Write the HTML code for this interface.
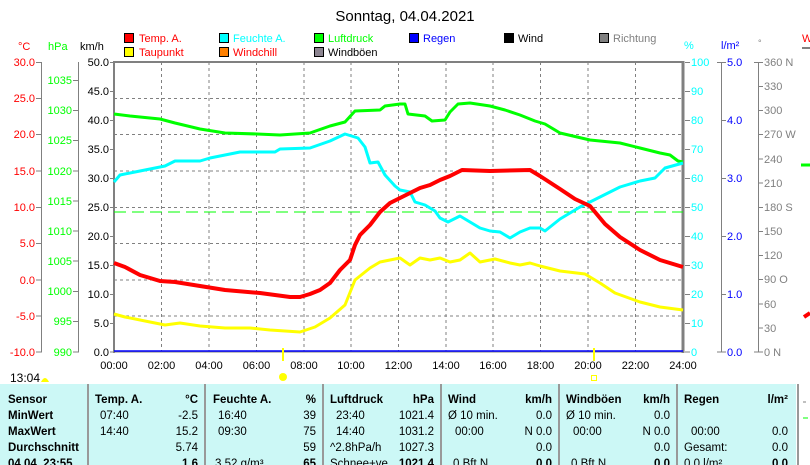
<!DOCTYPE html>
<html><head><meta charset="utf-8"><style>
html,body{margin:0;padding:0;background:#fff;}
svg{display:block;font-family:"Liberation Sans",sans-serif;}
</style></head><body>
<svg width="810" height="465" viewBox="0 0 810 465" xmlns="http://www.w3.org/2000/svg">
<rect width="810" height="465" fill="#fff"/>
<text x="405" y="21" font-size="15" text-anchor="middle" fill="#000">Sonntag, 04.04.2021</text>
<!-- legend -->
<g font-size="11">
<rect x="124.5" y="33.5" width="9" height="9" fill="#f00" stroke="#000"/><text x="139" y="42" fill="#f00">Temp. A.</text>
<rect x="124.5" y="47.5" width="9" height="9" fill="#ff0" stroke="#000"/><text x="139" y="56" fill="#f00">Taupunkt</text>
<rect x="219.5" y="33.5" width="9" height="9" fill="#0ff" stroke="#000"/><text x="233" y="42" fill="#0ff">Feuchte A.</text>
<rect x="219.5" y="47.5" width="9" height="9" fill="#ff8000" stroke="#000"/><text x="233" y="56" fill="#f00">Windchill</text>
<rect x="314.5" y="33.5" width="9" height="9" fill="#0f0" stroke="#000"/><text x="328" y="42" fill="#0f0">Luftdruck</text>
<rect x="314.5" y="47.5" width="9" height="9" fill="#8c8490" stroke="#000"/><text x="328" y="56" fill="#000">Windböen</text>
<rect x="409.5" y="33.5" width="9" height="9" fill="#00f" stroke="#000"/><text x="423" y="42" fill="#00f">Regen</text>
<rect x="504.5" y="33.5" width="9" height="9" fill="#000" stroke="#000"/><text x="518" y="42" fill="#000">Wind</text>
<rect x="599.5" y="33.5" width="9" height="9" fill="#808080" stroke="#000"/><text x="613" y="42" fill="#808080">Richtung</text>
</g>
<!-- units -->
<g font-size="11">
<text x="18" y="50" fill="#f00">°C</text>
<text x="48" y="50" fill="#0f0">hPa</text>
<text x="80" y="50" fill="#000">km/h</text>
<text x="684" y="49" fill="#0ff">%</text>
<text x="721" y="49" fill="#00f">l/m²</text>
<text x="758" y="46" fill="#808080" font-size="9">°</text>
<text x="802" y="42" fill="#f00">W</text>
</g>
<line x1="802" y1="48" x2="810" y2="48" stroke="#808080" stroke-width="2"/>
<!-- grid -->
<g stroke="#808080" stroke-dasharray="3,3" stroke-width="1">
<line x1="161.5" y1="62" x2="161.5" y2="352"/><line x1="209" y1="62" x2="209" y2="352"/><line x1="256.5" y1="62" x2="256.5" y2="352"/><line x1="304" y1="62" x2="304" y2="352"/><line x1="351" y1="62" x2="351" y2="352"/><line x1="398.5" y1="62" x2="398.5" y2="352"/><line x1="446" y1="62" x2="446" y2="352"/><line x1="493" y1="62" x2="493" y2="352"/><line x1="540.5" y1="62" x2="540.5" y2="352"/><line x1="588" y1="62" x2="588" y2="352"/><line x1="635.5" y1="62" x2="635.5" y2="352"/>
<line x1="114" y1="98.5" x2="683" y2="98.5"/><line x1="114" y1="134.5" x2="683" y2="134.5"/><line x1="114" y1="171" x2="683" y2="171"/><line x1="114" y1="207.5" x2="683" y2="207.5"/><line x1="114" y1="243.5" x2="683" y2="243.5"/><line x1="114" y1="280" x2="683" y2="280"/><line x1="114" y1="316" x2="683" y2="316"/>
</g>
<!-- frame -->
<line x1="114" y1="62" x2="683" y2="62" stroke="#808080" stroke-width="2"/>
<line x1="114" y1="61" x2="114" y2="353" stroke="#808080" stroke-width="2"/>
<line x1="683" y1="61" x2="683" y2="353" stroke="#808080" stroke-width="3"/>
<line x1="114" y1="352" x2="683" y2="352" stroke="#808080" stroke-width="1"/>
<!-- left axes -->
<g stroke="#808080" stroke-width="1">
<line x1="41.5" y1="62" x2="41.5" y2="352"/><line x1="78.5" y1="62" x2="78.5" y2="352"/>
<line x1="36" y1="62.5" x2="42" y2="62.5"/><line x1="36" y1="98.5" x2="42" y2="98.5"/><line x1="36" y1="134.5" x2="42" y2="134.5"/><line x1="36" y1="171" x2="42" y2="171"/><line x1="36" y1="207.5" x2="42" y2="207.5"/><line x1="36" y1="243.5" x2="42" y2="243.5"/><line x1="36" y1="280" x2="42" y2="280"/><line x1="36" y1="316" x2="42" y2="316"/><line x1="36" y1="352" x2="42" y2="352"/>
<line x1="73" y1="80.5" x2="79" y2="80.5"/><line x1="73" y1="110.5" x2="79" y2="110.5"/><line x1="73" y1="140.5" x2="79" y2="140.5"/><line x1="73" y1="171" x2="79" y2="171"/><line x1="73" y1="201" x2="79" y2="201"/><line x1="73" y1="231" x2="79" y2="231"/><line x1="73" y1="261" x2="79" y2="261"/><line x1="73" y1="291.5" x2="79" y2="291.5"/><line x1="73" y1="321.5" x2="79" y2="321.5"/><line x1="73" y1="352" x2="79" y2="352"/>
<line x1="110" y1="62.5" x2="114" y2="62.5"/><line x1="110" y1="91.5" x2="114" y2="91.5"/><line x1="110" y1="120.5" x2="114" y2="120.5"/><line x1="110" y1="149.5" x2="114" y2="149.5"/><line x1="110" y1="178.5" x2="114" y2="178.5"/><line x1="110" y1="207.5" x2="114" y2="207.5"/><line x1="110" y1="236.5" x2="114" y2="236.5"/><line x1="110" y1="265.5" x2="114" y2="265.5"/><line x1="110" y1="294.5" x2="114" y2="294.5"/><line x1="110" y1="323.5" x2="114" y2="323.5"/><line x1="110" y1="352" x2="114" y2="352"/>
</g>
<g font-size="11" text-anchor="end">
<g fill="#f00"><text x="35" y="66">30.0</text><text x="35" y="102">25.0</text><text x="35" y="138">20.0</text><text x="35" y="175">15.0</text><text x="35" y="211">10.0</text><text x="35" y="247">5.0</text><text x="35" y="284">0.0</text><text x="35" y="320">-5.0</text><text x="35" y="356">-10.0</text></g>
<g fill="#0f0"><text x="72" y="84">1035</text><text x="72" y="114">1030</text><text x="72" y="144">1025</text><text x="72" y="175">1020</text><text x="72" y="205">1015</text><text x="72" y="235">1010</text><text x="72" y="265">1005</text><text x="72" y="295">1000</text><text x="72" y="325">995</text><text x="72" y="356">990</text></g>
<g fill="#000"><text x="109" y="66">50.0</text><text x="109" y="95">45.0</text><text x="109" y="124">40.0</text><text x="109" y="153">35.0</text><text x="109" y="182">30.0</text><text x="109" y="211">25.0</text><text x="109" y="240">20.0</text><text x="109" y="269">15.0</text><text x="109" y="298">10.0</text><text x="109" y="327">5.0</text><text x="109" y="356">0.0</text></g>
</g>
<!-- right axes -->
<g stroke="#808080" stroke-width="1">
<line x1="721.5" y1="62" x2="721.5" y2="352"/><line x1="758.5" y1="62" x2="758.5" y2="352"/>
<line x1="685" y1="62.5" x2="690" y2="62.5"/><line x1="685" y1="91.5" x2="690" y2="91.5"/><line x1="685" y1="120.5" x2="690" y2="120.5"/><line x1="685" y1="149.5" x2="690" y2="149.5"/><line x1="685" y1="178.5" x2="690" y2="178.5"/><line x1="685" y1="207.5" x2="690" y2="207.5"/><line x1="685" y1="236.5" x2="690" y2="236.5"/><line x1="685" y1="265.5" x2="690" y2="265.5"/><line x1="685" y1="294.5" x2="690" y2="294.5"/><line x1="685" y1="323.5" x2="690" y2="323.5"/><line x1="685" y1="352" x2="690" y2="352"/>
<line x1="717" y1="62.5" x2="726" y2="62.5"/><line x1="721" y1="120.5" x2="726" y2="120.5"/><line x1="721" y1="178.5" x2="726" y2="178.5"/><line x1="721" y1="236.5" x2="726" y2="236.5"/><line x1="721" y1="294.5" x2="726" y2="294.5"/><line x1="717" y1="352" x2="726" y2="352"/>
<line x1="754" y1="62.5" x2="763" y2="62.5"/><line x1="758" y1="86.5" x2="763" y2="86.5"/><line x1="758" y1="110.5" x2="763" y2="110.5"/><line x1="758" y1="134.5" x2="763" y2="134.5"/><line x1="758" y1="159" x2="763" y2="159"/><line x1="758" y1="183" x2="763" y2="183"/><line x1="758" y1="207.5" x2="763" y2="207.5"/><line x1="758" y1="231.5" x2="763" y2="231.5"/><line x1="758" y1="255.5" x2="763" y2="255.5"/><line x1="758" y1="279.5" x2="763" y2="279.5"/><line x1="758" y1="304" x2="763" y2="304"/><line x1="758" y1="328" x2="763" y2="328"/><line x1="754" y1="352" x2="763" y2="352"/>
</g>
<g font-size="11">
<g fill="#0ff"><text x="691" y="66">100</text><text x="691" y="95">90</text><text x="691" y="124">80</text><text x="691" y="153">70</text><text x="691" y="182">60</text><text x="691" y="211">50</text><text x="691" y="240">40</text><text x="691" y="269">30</text><text x="691" y="298">20</text><text x="691" y="327">10</text><text x="691" y="356">0</text></g>
<g fill="#00f"><text x="727" y="66">5.0</text><text x="727" y="124">4.0</text><text x="727" y="182">3.0</text><text x="727" y="240">2.0</text><text x="727" y="298">1.0</text><text x="727" y="356">0.0</text></g>
<g fill="#808080"><text x="764" y="66">360 N</text><text x="764" y="90">330</text><text x="764" y="114">300</text><text x="764" y="138">270 W</text><text x="764" y="163">240</text><text x="764" y="187">210</text><text x="764" y="211">180 S</text><text x="764" y="235">150</text><text x="764" y="259">120</text><text x="764" y="283">90  O</text><text x="764" y="308">60</text><text x="764" y="332">30</text><text x="764" y="356">0   N</text></g>
</g>
<line x1="801" y1="165" x2="810" y2="165" stroke="#0f0" stroke-width="3"/>
<line x1="804" y1="317" x2="810" y2="313" stroke="#f00" stroke-width="4"/>
<!-- x labels -->
<g font-size="11" text-anchor="middle" fill="#000">
<text x="114" y="369">00:00</text><text x="161.5" y="369">02:00</text><text x="209" y="369">04:00</text><text x="256.5" y="369">06:00</text><text x="304" y="369">08:00</text><text x="351" y="369">10:00</text><text x="398.5" y="369">12:00</text><text x="446" y="369">14:00</text><text x="493" y="369">16:00</text><text x="540.5" y="369">18:00</text><text x="588" y="369">20:00</text><text x="635.5" y="369">22:00</text><text x="683" y="369">24:00</text>
</g>
<!-- green dashed -->
<line x1="114" y1="212" x2="683" y2="212" stroke="#0f0" stroke-width="1" stroke-dasharray="12,6"/>
<!-- rain line -->
<line x1="114" y1="351" x2="683" y2="351" stroke="#00f" stroke-width="1.5"/>
<!-- series -->
<g fill="none" stroke-width="3" stroke-linejoin="round">
<polyline stroke="#0f0" points="114,114 130,116 160,119 175,123 200,129 225,133 257,134 280,135 310,133 330,126 345,122 355,111 380,110 385,106 400,104 405,104 408,114 425,116 432,121 445,120 450,112 458,104 470,103 490,106 505,110 520,115 535,121 545,124 560,133 590,140 620,143 640,148 660,153 670,155 678,161 683,162"/>
<polyline stroke="#0ff" points="114,182 120,175 135,172 150,169 165,166 175,161 200,161 210,158 225,155 240,152 275,152 280,149 310,148 330,141 345,134 358,138 365,147 370,163 378,162 385,175 395,186 400,190 410,192 415,202 425,205 435,211 440,218 448,222 460,216 470,222 480,228 490,231 500,232 510,238 520,232 530,228 540,228 545,231 560,219 580,207 600,197 620,187 640,181 655,178 665,168 683,163"/>
<polyline stroke="#f00" stroke-width="4" points="114,263 125,267 140,275 160,281 175,282 200,286 225,290 260,293 290,297 300,297 310,294 320,290 330,283 340,270 350,260 355,245 360,235 370,225 380,212 390,203 400,198 410,193 420,188 430,185 440,180 450,176 462,170 490,171 530,170 540,176 560,189 575,199 590,206 605,224 620,237 640,250 660,260 683,267"/>
<polyline stroke="#ff0" points="114,314 125,317 150,322 165,325 180,323 200,326 225,328 250,328 270,330 300,332 315,327 330,318 345,305 355,280 370,268 380,262 390,260 400,258 410,265 420,258 430,260 440,258 450,262 460,260 470,253 480,262 495,259 510,263 520,265 530,263 540,266 560,271 585,274 600,283 615,293 640,302 660,307 683,310"/>
</g>
<!-- sun markers -->
<line x1="283" y1="348" x2="283" y2="361" stroke="#ff0" stroke-width="2"/>
<line x1="594" y1="348" x2="594" y2="361" stroke="#ff0" stroke-width="2"/>
<circle cx="283" cy="377" r="4" fill="#ff0"/>
<rect x="591.5" y="375.5" width="5" height="5" fill="none" stroke="#ff0"/>
<text x="10" y="382" font-size="12" fill="#000">13:04</text>
<path d="M41 382 Q45 374 49 382 Z" fill="#ff0"/>
<!-- table -->
<rect x="0" y="384" width="796" height="81" fill="#ccf8f6"/>
<g stroke="#999" stroke-width="2">
<line x1="88" y1="384" x2="88" y2="465"/><line x1="205" y1="384" x2="205" y2="465"/><line x1="323" y1="384" x2="323" y2="465"/><line x1="441" y1="384" x2="441" y2="465"/><line x1="559" y1="384" x2="559" y2="465"/><line x1="677" y1="384" x2="677" y2="465"/><line x1="798" y1="384" x2="798" y2="465"/>
</g>
<g font-size="11.5" fill="#000">
<g font-weight="bold"><text x="8" y="403">Sensor</text><text x="8" y="419">MinWert</text><text x="8" y="435">MaxWert</text><text x="8" y="451">Durchschnitt</text><text x="8" y="467">04.04. 23:55</text>
<text x="95" y="403">Temp. A.</text><text x="213" y="403">Feuchte A.</text><text x="330" y="403">Luftdruck</text><text x="448" y="403">Wind</text><text x="566" y="403">Windböen</text><text x="684" y="403">Regen</text></g>
<g text-anchor="end" font-weight="bold"><text x="198" y="403">°C</text><text x="316" y="403">%</text><text x="434" y="403">hPa</text><text x="552" y="403">km/h</text><text x="670" y="403">km/h</text><text x="788" y="403">l/m²</text>
<text x="198" y="467">1.6</text><text x="316" y="467">65</text><text x="434" y="467">1021.4</text><text x="552" y="467">0.0</text><text x="670" y="467">0.0</text><text x="788" y="467">0.0</text></g>
<text x="100" y="419">07:40</text><text x="100" y="435">14:40</text>
<text x="218" y="419">16:40</text><text x="218" y="435">09:30</text><text x="215" y="467">3.52 g/m³</text>
<text x="336" y="419">23:40</text><text x="336" y="435">14:40</text><text x="330" y="451">^2.8hPa/h</text><text x="330" y="467">Schnee+ve</text>
<text x="448" y="419">Ø 10 min.</text><text x="455" y="435">00:00</text><text x="453" y="467">0 Bft N</text>
<text x="566" y="419">Ø 10 min.</text><text x="573" y="435">00:00</text><text x="571" y="467">0 Bft N</text>
<text x="691" y="435">00:00</text><text x="684" y="451">Gesamt:</text><text x="684" y="467">0.0 l/m²</text>
<g text-anchor="end">
<text x="198" y="419">-2.5</text><text x="198" y="435">15.2</text><text x="198" y="451">5.74</text>
<text x="316" y="419">39</text><text x="316" y="435">75</text><text x="316" y="451">59</text>
<text x="434" y="419">1021.4</text><text x="434" y="435">1031.2</text><text x="434" y="451">1027.3</text>
<text x="552" y="419">0.0</text><text x="552" y="435">N 0.0</text><text x="552" y="451">0.0</text>
<text x="670" y="419">0.0</text><text x="670" y="435">N 0.0</text><text x="670" y="451">0.0</text>
<text x="788" y="435">0.0</text><text x="788" y="451">0.0</text>
</g>
</g>
<line x1="803" y1="402" x2="806" y2="402" stroke="#808080"/>
<line x1="803" y1="418" x2="808" y2="418" stroke="#0f0"/>
</svg>
</body></html>
